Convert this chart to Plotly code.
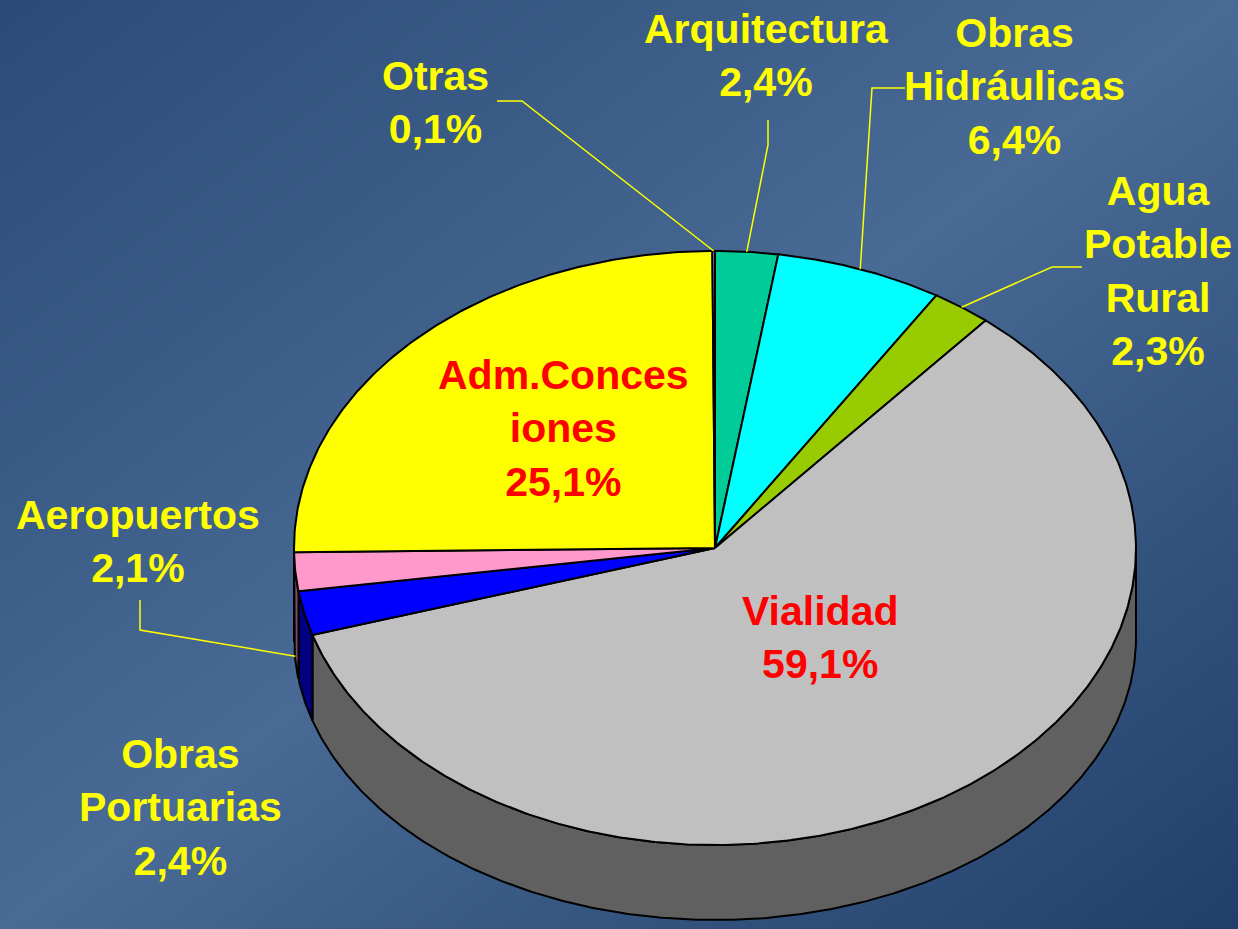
import numpy as np
import plotly.graph_objects as go

# ---------------- data ----------------
categories = ["Arquitectura", "Obras Hidráulicas", "Agua Potable Rural", "Vialidad",
              "Obras Portuarias", "Aeropuertos", "Adm.Concesiones", "Otras"]
percent = [2.4, 6.4, 2.3, 59.1, 2.4, 2.1, 25.1, 0.1]
label_lines = ["Arquitectura", "Obras<br>Hidráulicas", "Agua<br>Potable<br>Rural", "Vialidad",
               "Obras<br>Portuarias", "Aeropuertos", "Adm.Conces<br>iones", "Otras"]

# ---------------- styles / layout ----------------
top_colors = ["#00cc99", "#00ffff", "#99cc00", "#c0c0c0", "#0000ff", "#ff99cc", "#ffff00", "#cc99ff"]
wall_colors = ["#006650", "#008080", "#4c6600", "#606060", "#000080", "#804c66", "#808000", "#664c80"]
label_colors = ["#ffff00", "#ffff00", "#ffff00", "#ff0000", "#ffff00", "#ffff00", "#ff0000", "#ffff00"]
label_pos = [(766, 55), (1014, 86), (1158, 271), (820, 637), (180, 807), (138, 541), (563, 428), (435, 102)]
# leader lines: label-side elbow points (pie-side end derived from the slice angle)
leader_elbows = {0: [(768, 120), (768, 145)],
                 1: [(905, 88), (872, 88)],
                 2: [(1082, 267), (1052, 267)],
                 5: [(140, 600), (140, 630)],
                 7: [(497, 101), (522, 101)]}

W, H = 1238, 929
CX, CY, RX, RY = 715, 548, 421, 297      # top ellipse
CYB, RYB = 638, 282                       # bottom ellipse (perspective)

def top_pt(phi):
    r = np.radians(phi)
    return CX + RX * np.sin(r), CY - RY * np.cos(r)

def bot_pt(phi):
    r = np.radians(phi)
    return CX + RX * np.sin(r), CYB - RYB * np.cos(r)

def arc(a, b, fn):
    n = max(int(abs(b - a) * 2), 2)
    ph = np.linspace(a, b, n)
    return fn(ph)

vals = np.array(percent, dtype=float)
frac = vals / vals.sum()
ends = np.cumsum(frac) * 360.0
starts = ends - frac * 360.0

fig = go.Figure()

# background gradient
fig.add_trace(go.Heatmap(
    x=[-5, W / 2, W + 5], y=[-5, H / 2, H + 5],
    z=[[0, 0.25, 0.5], [0.25, 0.5, 0.75], [0.5, 0.75, 1.0]],
    zsmooth="best", showscale=False, hoverinfo="skip",
    colorscale=[[0, "rgb(44,74,120)"], [0.5, "rgb(72,106,148)"], [1, "rgb(32,62,106)"]]))

# side walls (front half)
for i in range(len(categories)):
    a, b = max(starts[i], 90.0), min(ends[i], 270.0)
    if b <= a:
        continue
    tx, ty = arc(a, b, top_pt)
    bx, by = arc(b, a, bot_pt)
    fig.add_trace(go.Scatter(
        x=np.concatenate([tx, bx, tx[:1]]), y=np.concatenate([ty, by, ty[:1]]),
        mode="lines", fill="toself", fillcolor=wall_colors[i],
        line=dict(color="black", width=2), hoverinfo="skip", showlegend=False))

# top faces
for i in range(len(categories)):
    tx, ty = arc(starts[i], ends[i], top_pt)
    fig.add_trace(go.Scatter(
        x=np.concatenate([[CX], tx, [CX]]), y=np.concatenate([[CY], ty, [CY]]),
        mode="lines", fill="toself", fillcolor=top_colors[i],
        line=dict(color="black", width=2), hoverinfo="skip", showlegend=False))

# leader lines
for i, elbow in leader_elbows.items():
    mid = (starts[i] + ends[i]) / 2
    if 90 < mid < 270:
        px, ty_ = top_pt(mid)
        _, by_ = bot_pt(mid)
        py = ty_ + 0.95 * (by_ - ty_)
    else:
        px, py = top_pt(mid)
    xs = [p[0] for p in elbow] + [px]
    ys = [p[1] for p in elbow] + [py]
    fig.add_trace(go.Scatter(x=xs, y=ys, mode="lines",
                             line=dict(color="#ffff00", width=1.5),
                             hoverinfo="skip", showlegend=False))

# labels
for i in range(len(categories)):
    txt = label_lines[i] + "<br>" + f"{percent[i]:.1f}".replace(".", ",") + "%"
    fig.add_annotation(x=label_pos[i][0], y=label_pos[i][1], text=txt, showarrow=False,
                       xanchor="center", yanchor="middle", align="center",
                       font=dict(family="Liberation Sans, Arial, sans-serif", size=41,
                                 color=label_colors[i], weight="bold"))

fig.update_layout(
    width=W, height=H, margin=dict(l=0, r=0, t=0, b=0),
    paper_bgcolor="rgb(60,92,136)", plot_bgcolor="rgba(0,0,0,0)",
    xaxis=dict(range=[0, W], visible=False, fixedrange=True),
    yaxis=dict(range=[H, 0], visible=False, fixedrange=True),
    showlegend=False)

fig.write_html("out.html")
